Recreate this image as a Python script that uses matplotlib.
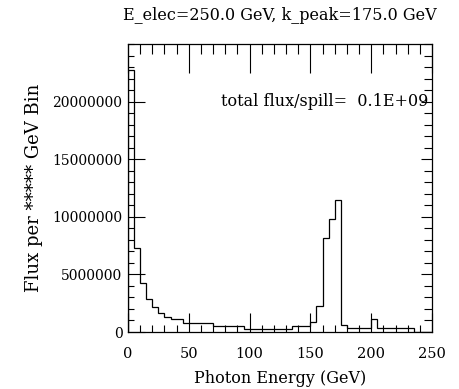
import numpy as np
import matplotlib
matplotlib.use("Agg")
import matplotlib.pyplot as plt
from matplotlib.ticker import MultipleLocator, FuncFormatter

# histogram of photon flux, 5 GeV bins from 0 to 250 GeV
binWidth = 5.0
eMin = 0.0
flux = [22.7e6, 7.26e6, 4.22e6, 2.84e6, 2.2e6, 1.68e6, 1.33e6, 1.1e6, 1.1e6,
        0.81e6, 0.81e6, 0.81e6, 0.81e6, 0.81e6,
        0.55e6, 0.55e6, 0.55e6, 0.55e6, 0.55e6,
        0.29e6, 0.29e6, 0.29e6, 0.29e6, 0.29e6, 0.29e6, 0.29e6, 0.29e6,
        0.55e6, 0.55e6, 0.55e6,
        0.84e6, 2.23e6, 8.15e6, 9.82e6, 11.5e6,
        0.61e6, 0.35e6, 0.35e6, 0.35e6, 0.35e6,
        1.17e6,
        0.32e6, 0.32e6, 0.32e6, 0.32e6, 0.32e6, 0.32e6,
        0.0, 0.0, 0.0]

xTicks = [0, 50, 100, 150, 200, 250]
yTicks = [0, 5000000, 10000000, 15000000, 20000000]

titleText = "E_elec=250.0 GeV, k_peak=175.0 GeV"
infoText = "total flux/spill=  0.1E+09"

plt.rcParams['font.family'] = ['DejaVu Serif']

fig = plt.figure(figsize=(4.59, 3.89), dpi=100)
ax = fig.add_axes([0.2789, 0.1465, 0.6623, 0.7404])

edges = eMin + binWidth * np.arange(len(flux) + 1)
ax.stairs(flux, edges, color="black", linewidth=0.9)

ax.set_xlim(0, 250)
ax.set_ylim(0, 25000000)

# ticks on the bottom and left
ax.set_xticks(xTicks)
ax.xaxis.set_minor_locator(MultipleLocator(10))
ax.set_yticks(yTicks)
ax.yaxis.set_minor_locator(MultipleLocator(1000000))
ax.yaxis.set_major_formatter(FuncFormatter(lambda v, p: "%d" % v))
ax.tick_params(axis="x", which="major", direction="in", length=13.5, width=0.8, labelsize=10.5, pad=10.5)
ax.tick_params(axis="x", which="minor", direction="in", length=4.7, width=0.8)
ax.tick_params(axis="y", which="major", direction="in", length=12, width=0.8, labelsize=10, pad=4)
ax.tick_params(axis="y", which="minor", direction="in", length=4, width=0.8)

# top and right ticks are drawn with other lengths
top = ax.secondary_xaxis("top")
top.set_xticks(xTicks)
top.xaxis.set_minor_locator(MultipleLocator(10))
top.tick_params(axis="x", which="major", direction="in", length=21, width=0.8, labeltop=False)
top.tick_params(axis="x", which="minor", direction="in", length=7.2, width=0.8)

right = ax.secondary_yaxis("right")
right.set_yticks(yTicks)
right.yaxis.set_minor_locator(MultipleLocator(1000000))
right.tick_params(axis="y", which="major", direction="in", length=8, width=0.8, labelright=False)
right.tick_params(axis="y", which="minor", direction="in", length=5.8, width=0.8)

for sp in ax.spines.values():
    sp.set_linewidth(0.9)
top.spines["top"].set_visible(False)
right.spines["right"].set_visible(False)

ax.text(247, 20050000, infoText, ha="right", va="center", fontsize=11.5)

ax.set_title(titleText, fontsize=11.5, pad=17)
ax.set_xlabel("Photon Energy (GeV)", fontsize=11.5, labelpad=7)
ax.set_ylabel("Flux per ***** GeV Bin", fontsize=13, labelpad=7)

fig.savefig("out.png", dpi=100)
